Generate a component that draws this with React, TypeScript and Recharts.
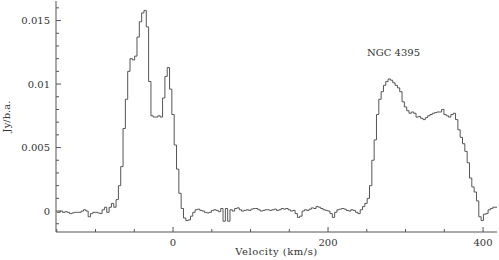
import { LineChart, Line, XAxis, YAxis } from "recharts"

// channel axis of the spectrum (km/s)
const VELOCITY_START = -150
const CHANNEL_WIDTH = 3

// flux density per channel, mJy/beam
const fluxMJy = [
  -0.1, -0.1, 0.0, -0.1, -0.05, -0.1, -0.2, -0.15, -0.1, -0.1,
  -0.1, 0.0, 0.1, 0.0, -0.45, -0.2, -0.1, -0.1, -0.15, -0.2,
  0.1, 0.3, -0.1, 0.3, 0.6, 0.3, 0.9, 2.0, 3.5, 6.5,
  8.8, 11.0, 12.0, 11.9, 12.2, 13.7, 14.9, 15.6, 15.8, 14.5,
  10.2, 7.5, 7.4, 7.4, 7.5, 7.4, 8.9, 10.6, 11.3, 9.6,
  7.6, 5.2, 3.3, 1.4, 0.2, -0.55, -0.75, -0.7, -0.4, -0.1,
  0.1, 0.15, 0.05, 0.0, -0.1, -0.15, -0.1, 0.05, 0.1, 0.05,
  -0.05, 0.2, -0.8, 0.2, -0.8, 0.1, 0.0, 0.2, 0.25, 0.1,
  0.0, 0.05, 0.1, 0.05, 0.15, 0.2, 0.2, 0.1, 0.0, 0.05,
  0.1, 0.1, 0.05, 0.1, 0.15, 0.05, 0.1, 0.2, 0.15, 0.2,
  0.1, 0.0, 0.05, -0.2, -0.5, -0.4, 0.0, 0.1, 0.05, 0.15,
  0.25, 0.2, 0.35, 0.3, 0.2, 0.1, 0.05, 0.0, -0.2, -0.5,
  -0.1, 0.1, 0.15, 0.2, 0.15, 0.05, 0.0, 0.1, 0.05, -0.1,
  -0.2, 0.1, 0.35, 0.6, 1.0, 2.0, 4.0, 5.6, 7.6, 8.8,
  9.4, 9.9, 10.2, 10.4, 10.3, 10.1, 9.9, 9.7, 9.4, 8.6,
  8.2, 7.9, 7.7, 7.8, 7.7, 7.4, 7.45, 7.3, 7.2, 7.35,
  7.5, 7.6, 7.7, 7.75, 7.8, 7.8, 8.0, 7.6, 7.5, 7.4,
  7.6, 7.7, 7.2, 6.4, 5.8, 5.3, 4.7, 3.8, 2.6, 1.9,
  1.5, 0.8, -0.45, -0.75, -0.25, -0.2, 0.1, 0.2, 0.3, 0.3,
  0.3,
]

const xMajorTicks = [0, 200, 400]
const xMinorTicks = [-150, -100, -50, 50, 100, 150, 250, 300, 350]
const yMajorTicks = [0, 0.005, 0.01, 0.015]
const yMinorTicks = [-0.001, 0.001, 0.002, 0.003, 0.004, 0.006, 0.007, 0.008, 0.009, 0.011, 0.012, 0.013, 0.014, 0.016]

const X_DOMAIN: [number, number] = [-151, 418]
const Y_DOMAIN: [number, number] = [-0.00165, 0.01654]

const data = fluxMJy.map((f, i) => ({
  velocity: VELOCITY_START + i * CHANNEL_WIDTH,
  flux: f / 1000,
}))

const xTicks = [...xMinorTicks, ...xMajorTicks].sort((a, b) => a - b)
const yTicks = [...yMinorTicks, ...yMajorTicks].sort((a, b) => a - b)

const W = 499
const H = 260
const MARGIN = { top: 1, right: 2, left: 0, bottom: 0 }
const Y_AXIS_W = 56
const X_AXIS_H = 28
// plot frame edges, from the layout above
const LEFT = MARGIN.left + Y_AXIS_W
const RIGHT = W - MARGIN.right
const TOP = MARGIN.top
const BOTTOM = H - MARGIN.bottom - X_AXIS_H

const AXIS = "#555"
const TEXT = "#333"
const FONT = "DejaVu Serif"
const MAJOR_LEN = 5
const MINOR_LEN = 3

type Side = "bottom" | "top" | "left" | "right"

// inward tick mark, plus a label on the bottom/left majors
const makeTick = (side: Side, majors: number[]) => (props: any) => {
  const { x, y, payload } = props
  const major = majors.includes(payload.value)
  const len = major ? MAJOR_LEN : MINOR_LEN
  let line
  if (side === "bottom") line = <line x1={x} x2={x} y1={BOTTOM} y2={BOTTOM - len} stroke={AXIS} />
  else if (side === "top") line = <line x1={x} x2={x} y1={TOP} y2={TOP + len} stroke={AXIS} />
  else if (side === "left") line = <line x1={LEFT} x2={LEFT + len} y1={y} y2={y} stroke={AXIS} />
  else line = <line x1={RIGHT} x2={RIGHT - len} y1={y} y2={y} stroke={AXIS} />
  const showLabel = major && (side === "bottom" || side === "left")
  return (
    <g>
      {line}
      {showLabel && (
        <text
          x={x}
          y={y}
          dy={side === "bottom" ? "0.71em" : "0.355em"}
          textAnchor={side === "bottom" ? "middle" : "end"}
          fill={TEXT}
          fontSize={10}
          fontFamily={FONT}
        >
          {String(payload.value)}
        </text>
      )}
    </g>
  )
}

export default function App() {
  return (
    <div style={{ position: "absolute", left: 0, top: 0, width: W, height: H, background: "#fff" }}>
      <LineChart width={W} height={H} data={data} margin={MARGIN}>
        <XAxis
          xAxisId="x"
          dataKey="velocity"
          type="number"
          domain={X_DOMAIN}
          allowDataOverflow
          ticks={xTicks}
          interval={0}
          height={X_AXIS_H}
          tickLine={false}
          tickSize={0}
          tickMargin={7}
          stroke={AXIS}
          tick={makeTick("bottom", xMajorTicks)}
          label={{ value: "Velocity (km/s)", position: "insideBottom", offset: 5, fill: TEXT, fontSize: 10, fontFamily: FONT, letterSpacing: 0.5 }}
        />
        <XAxis
          xAxisId="top"
          orientation="top"
          type="number"
          domain={X_DOMAIN}
          allowDataOverflow
          ticks={xTicks}
          interval={0}
          height={0}
          tickLine={false}
          tickSize={0}
          stroke={AXIS}
          tick={makeTick("top", xMajorTicks)}
        />
        <YAxis
          yAxisId="y"
          type="number"
          domain={Y_DOMAIN}
          allowDataOverflow
          ticks={yTicks}
          interval={0}
          width={Y_AXIS_W}
          tickLine={false}
          tickSize={0}
          tickMargin={6}
          stroke={AXIS}
          tick={makeTick("left", yMajorTicks)}
          label={{ value: "Jy/b.a.", angle: -90, position: "insideLeft", offset: 6, fill: TEXT, fontSize: 10, fontFamily: FONT, style: { textAnchor: "middle" } }}
        />
        <YAxis
          yAxisId="right"
          orientation="right"
          type="number"
          domain={Y_DOMAIN}
          allowDataOverflow
          ticks={yTicks}
          interval={0}
          width={0}
          tickLine={false}
          tickSize={0}
          stroke={AXIS}
          tick={makeTick("right", yMajorTicks)}
        />

        <Line
          xAxisId="x"
          yAxisId="y"
          type="step"
          dataKey="flux"
          stroke="#555"
          strokeWidth={1}
          dot={false}
          activeDot={false}
          isAnimationActive={false}
        />
      </LineChart>
      <div
        style={{
          position: "absolute",
          left: 367,
          top: 47,
          fontFamily: FONT,
          fontSize: 10,
          color: TEXT,
          whiteSpace: "nowrap",
        }}
      >
        NGC 4395
      </div>
    </div>
  )
}
